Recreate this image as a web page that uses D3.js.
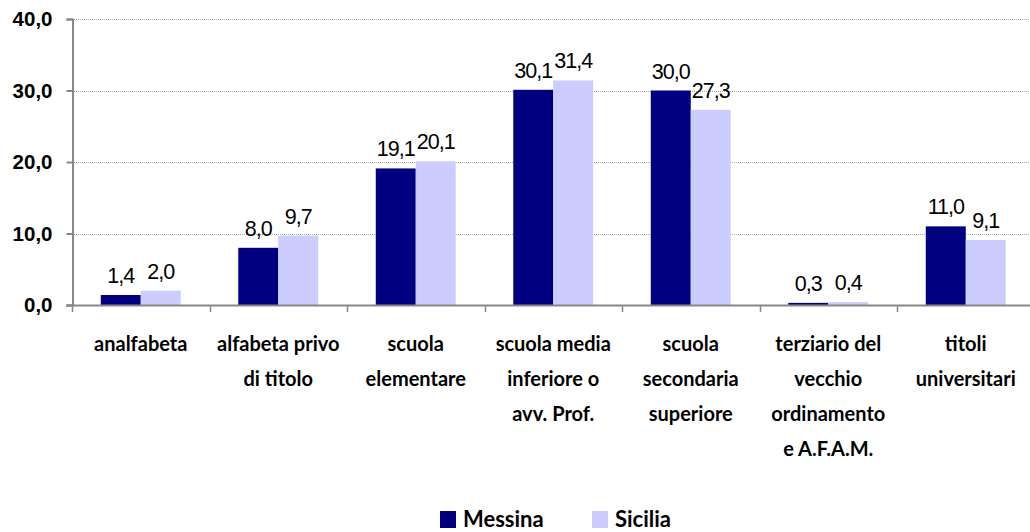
<!DOCTYPE html>
<html>
<head>
<meta charset="utf-8">
<script src="https://cdn.jsdelivr.net/npm/d3@7"></script>
<style>
  body { margin: 0; background: #fff; }
  svg { display: block; }
  .y-axis text { font-family: "Liberation Sans", Arial, sans-serif; font-weight: bold; font-size: 20.5px; fill: #000; }
  .cat-label { font-family: Lato, "Open Sans", sans-serif; font-weight: bold; font-size: 20px; fill: #000; }
  .val-label { font-family: "Liberation Sans Narrow", "Liberation Sans", sans-serif; font-size: 21.5px; fill: #000; letter-spacing: -1px; }
  .legend text { font-family: Lato, "Open Sans", sans-serif; font-weight: bold; font-size: 22px; fill: #000; }
</style>
</head>
<body>
<div class="visHolder"></div>
<script>
const categories = [
  "analfabeta",
  "alfabeta privo di titolo",
  "scuola elementare",
  "scuola media inferiore o avv. Prof.",
  "scuola secondaria superiore",
  "terziario del vecchio ordinamento e A.F.A.M.",
  "titoli universitari"
];
const categoryLines = [
  ["analfabeta"],
  ["alfabeta privo", "di titolo"],
  ["scuola", "elementare"],
  ["scuola media", "inferiore o", "avv. Prof."],
  ["scuola", "secondaria", "superiore"],
  ["terziario del", "vecchio", "ordinamento", "e A.F.A.M."],
  ["titoli", "universitari"]
];
const seriesNames = ["Messina", "Sicilia"];
const messina = [1.4, 8.0, 19.1, 30.1, 30.0, 0.3, 11.0];
const sicilia = [2.0, 9.7, 20.1, 31.4, 27.3, 0.4, 9.1];
const yTicks = [0, 10, 20, 30, 40];
const colors = ["#000080", "#ccccff"];

function createChart() {
  const width = 1030;
  const height = 532;
  const left = 72;
  const right = 1034.5;
  const top = 19;
  const bottom = 305;

  const it = d3.formatLocale({ decimal: ",", thousands: ".", grouping: [3], currency: ["€", ""] });
  const fmt = it.format(".1f");

  const rows = categories.map((c, i) => ({ cat: c, values: [messina[i], sicilia[i]] }));

  const x0 = d3.scaleBand().domain(categories).range([left, right]).padding(0);
  const x1 = d3.scaleBand().domain(seriesNames).range([0, x0.bandwidth()]).paddingOuter(0.72);
  const y = d3.scaleLinear().domain([0, 40]).range([bottom, top]);

  const svg = d3.select(".visHolder").append("svg")
    .attr("width", width)
    .attr("height", height);

  // gridlines
  svg.append("g")
    .selectAll("line")
    .data(yTicks.filter((t) => t > 0))
    .enter()
    .append("line")
    .attr("x1", left)
    .attr("x2", width)
    .attr("y1", (d) => Math.round(y(d)) + 0.5)
    .attr("y2", (d) => Math.round(y(d)) + 0.5)
    .attr("stroke", "#a8a8a8")
    .attr("stroke-dasharray", "1,1");

  // bars
  const groups = svg.append("g")
    .selectAll("g")
    .data(rows)
    .enter()
    .append("g")
    .attr("transform", (d) => "translate(" + x0(d.cat) + ",0)");

  groups.selectAll("rect")
    .data((d) => d.values.map((v, i) => ({ s: seriesNames[i], v: v, i: i })))
    .enter()
    .append("rect")
    .attr("x", (d) => x1(d.s))
    .attr("width", x1.bandwidth())
    .attr("y", (d) => y(d.v))
    .attr("height", (d) => y(0) - y(d.v))
    .attr("fill", (d) => colors[d.i]);

  groups.selectAll("text")
    .data((d) => d.values.map((v, i) => ({ s: seriesNames[i], v: v })))
    .enter()
    .append("text")
    .attr("class", "val-label")
    .attr("x", (d) => x1(d.s) + x1.bandwidth() / 2)
    .attr("y", (d) => y(d.v) - 12)
    .attr("text-anchor", "middle")
    .text((d) => fmt(d.v));

  // y axis
  const yAxis = svg.append("g")
    .attr("class", "y-axis")
    .attr("transform", "translate(" + (left + 0.5) + ",0)")
    .call(d3.axisLeft(y).tickValues(yTicks).tickSize(6).tickPadding(14).tickFormat(fmt));
  yAxis.select(".domain").attr("stroke", "#888").attr("stroke-width", 2);
  yAxis.selectAll(".tick line").attr("stroke", "#888").attr("stroke-width", 2);

  // x axis
  const boundaries = categories.map((c) => x0(c)).concat([right]);
  svg.append("line")
    .attr("x1", left - 6)
    .attr("x2", width)
    .attr("y1", bottom + 0.5)
    .attr("y2", bottom + 0.5)
    .attr("stroke", "#888")
    .attr("stroke-width", 2);
  svg.append("g")
    .selectAll("line")
    .data(boundaries)
    .enter()
    .append("line")
    .attr("x1", (d) => Math.round(d) + 0.5)
    .attr("x2", (d) => Math.round(d) + 0.5)
    .attr("y1", bottom)
    .attr("y2", bottom + 7)
    .attr("stroke", "#888")
    .attr("stroke-width", 1.5);

  // category labels
  const labels = svg.append("g")
    .selectAll("text")
    .data(categories)
    .enter()
    .append("text")
    .attr("class", "cat-label")
    .attr("text-anchor", "middle")
    .attr("x", (d) => x0(d) + x0.bandwidth() / 2)
    .attr("y", 351);
  labels.selectAll("tspan")
    .data((d, i) => categoryLines[i])
    .enter()
    .append("tspan")
    .attr("x", function () { return d3.select(this.parentNode).attr("x"); })
    .attr("dy", (d, i) => (i === 0 ? 0 : 35))
    .text((d) => d);

  // legend
  const legend = svg.append("g").attr("class", "legend");
  const legendX = [440, 592];
  seriesNames.forEach((name, i) => {
    legend.append("rect")
      .attr("x", legendX[i])
      .attr("y", 511)
      .attr("width", 16)
      .attr("height", 17)
      .attr("fill", colors[i]);
    legend.append("text")
      .attr("x", legendX[i] + 23)
      .attr("y", 527)
      .text(name);
  });
}

createChart();
</script>
</body>
</html>
